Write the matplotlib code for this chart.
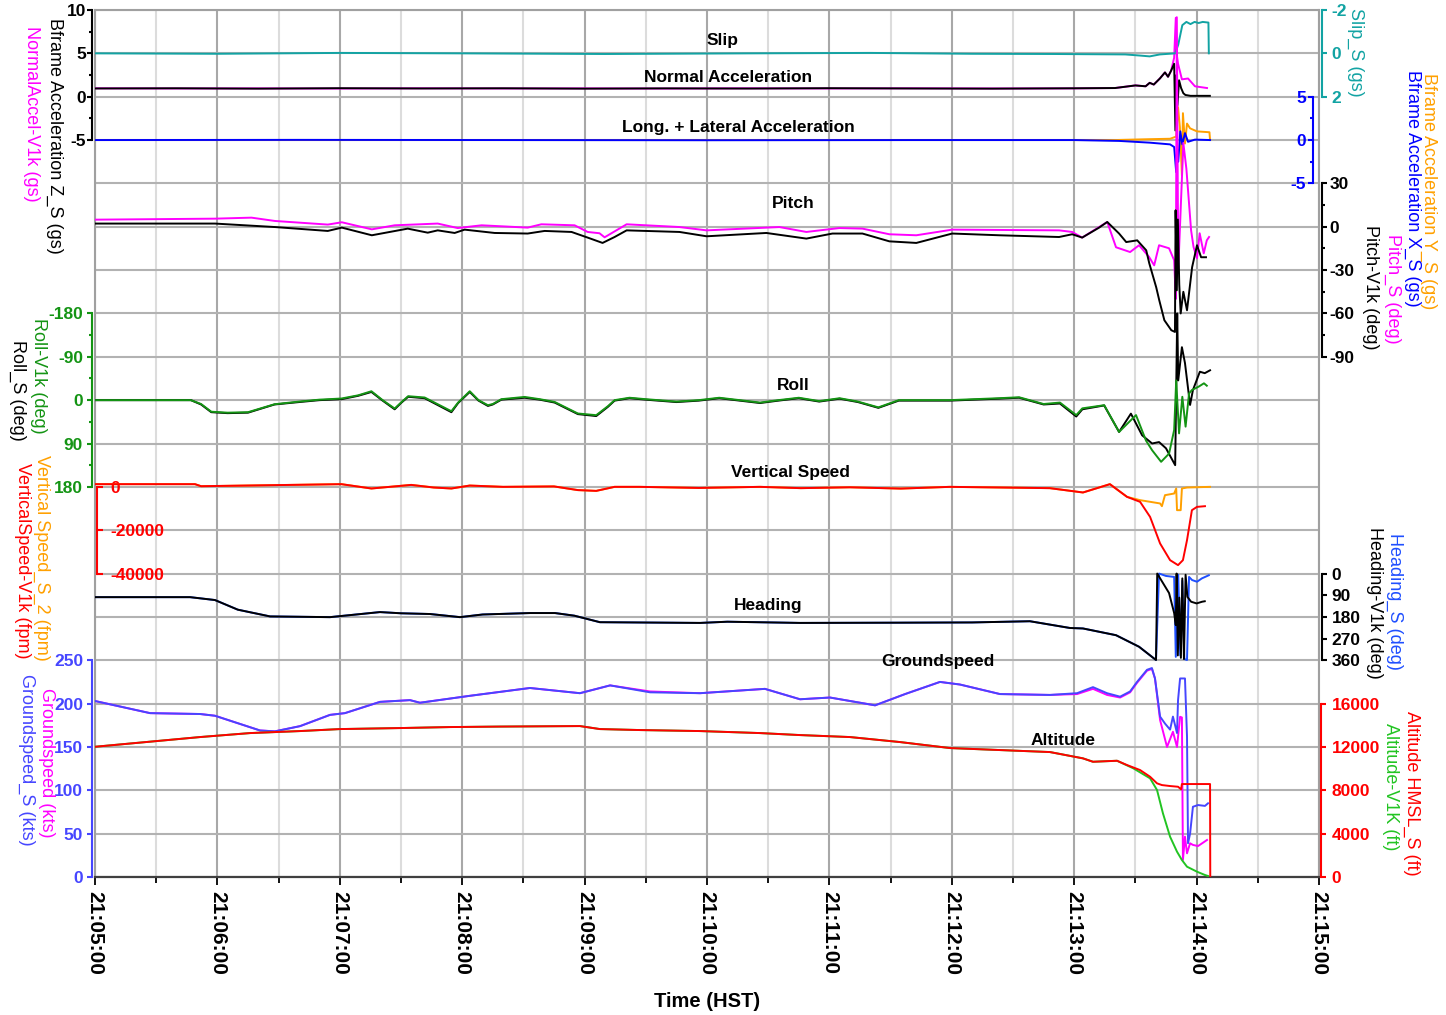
import matplotlib
matplotlib.use("Agg")
import matplotlib.pyplot as plt

plt.rcParams['font.family'] = ['Liberation Sans', 'DejaVu Sans']

# time axis: seconds after 21:05:00 HST
time_ticks = [0, 60, 120, 180, 240, 300, 360, 420, 480, 540, 600]
time_labels = ['21:05:00', '21:06:00', '21:07:00', '21:08:00', '21:09:00', '21:10:00',
               '21:11:00', '21:12:00', '21:13:00', '21:14:00', '21:15:00']
time_minor = [30, 90, 150, 210, 270, 330, 390, 450, 510, 570]

# --- Slip ---
slip_t = [0, 60, 120, 180, 250, 320, 380, 430, 470, 505, 512, 517, 522, 529.5, 531, 533, 535, 537, 539, 541, 543, 545.8, 546.0]
slip_s = [0.0, 0.02, -0.02, 0.0, 0.03, 0.0, -0.02, 0.02, 0.03, 0.05, 0.1, 0.14, 0.05, 0.0, -0.4, -1.3, -1.45, -1.35, -1.45, -1.4, -1.45, -1.42, 0.0]

# --- Normal acceleration ---
nz_t = [0, 40, 80, 120, 160, 200, 240, 280, 320, 360, 400, 440, 480, 500, 510, 515, 517, 519, 522, 524.5, 526, 527.5, 529, 529.6, 530.1, 530.6, 531.4, 532.4, 533.5, 534.5, 537, 546.5]
nz_s = [0.95, 0.97, 0.93, 0.98, 0.95, 0.97, 0.93, 0.96, 0.94, 0.98, 0.95, 0.93, 0.97, 1.0, 1.3, 1.2, 1.6, 1.4, 2.1, 2.8, 2.3, 3.0, 3.8, -3.9, 2.5, -1.0, 1.9, 1.0, 0.4, 0.2, 0.1, 0.1]
nz_v1k_t = [0, 40, 80, 120, 160, 200, 240, 280, 320, 360, 400, 440, 480, 500, 510, 515, 517, 519, 522, 524.5, 526, 527.5, 529, 529.8, 530.2, 530.9, 532.8, 535.8, 539.2, 545.1]
nz_v1k = [0.97, 0.95, 0.96, 0.94, 0.97, 0.95, 0.96, 0.94, 0.97, 0.95, 0.97, 0.95, 0.96, 1.0, 1.3, 1.2, 1.6, 1.4, 2.1, 2.8, 2.3, 3.0, 4.5, 9.1, 5.0, 3.8, 2.0, 2.1, 1.2, 1.0]

# --- Longitudinal / lateral acceleration ---
ax_t = [0, 100, 200, 300, 400, 480, 502, 517, 527, 529, 530, 530.4, 531, 532, 533, 534.3, 535.8, 539.2, 546.6]
ax_s = [0.0, 0.02, 0.0, -0.02, 0.0, 0.0, -0.1, -0.3, -0.5, -0.8, -3.7, -1.0, -2.5, 1.0, -0.5, 0.8, -0.2, 0.05, 0.0]
ay_t = [0, 100, 200, 300, 400, 500, 517, 527, 530, 530.9, 531.8, 532.8, 533.3, 534.3, 535.3, 536.8, 540.2, 546.3, 546.6]
ay_s = [0.0, 0.0, 0.0, 0.0, 0.0, 0.0, 0.1, 0.15, 0.4, 3.8, 1.5, -4.1, 3.1, -0.4, 1.9, 1.35, 1.0, 0.9, 0.0]

# --- Pitch ---
pitch_v1k_t = [0, 58.8, 88.2, 114.1, 121.0, 135.7, 153.3, 163.1, 168.0, 176.3, 181.2, 195.9, 212.1, 220.4,
               233.6, 241.5, 248.8, 254.7, 260.6, 286.5, 299.8, 329.1, 348.7, 361.5, 376.2, 389.4, 402.6,
               420.2, 443.3, 472.6, 479.0, 483.9, 492.2, 496.2, 502.0, 505.5, 510.9, 515.3, 516.8, 520.2,
               521.7, 524.2, 527.6, 529.4, 529.7, 530.3, 530.8, 531.5, 532.2, 533.5, 535.3, 537.8, 540.2,
               542.2, 544.6]
pitch_v1k = [2.2, 2.2, -0.2, -2.9, -0.6, -5.9, -1.3, -4.1, -2.5, -4.3, -2.0, -4.3, -4.7, -2.9,
             -3.6, -7.5, -11.2, -7.1, -2.5, -3.6, -6.6, -4.3, -8.2, -4.7, -4.7, -10.1, -11.2,
             -4.7, -5.9, -7.1, -5.2, -7.5, -0.6, 3.3, -4.7, -10.6, -9.4, -16.3, -25.3, -41.9,
             -50.9, -64.7, -71.6, -72.8, 11.4, -44.0, 5.0, -40.0, -60.0, -45.0, -57.8, -28.0, -12.8,
             -21.1, -21.1]
pitch_s_t = [0, 58.8, 76.7, 88.2, 114.1, 121.0, 135.7, 146.9, 168.0, 177.8, 189.5, 212.1, 218.8, 235.1,
             241.5, 247.3, 249.8, 260.6, 286.5, 299.8, 335.5, 348.7, 364.9, 376.2, 389.4, 402.6, 420.2,
             472.6, 479.0, 483.9, 492.2, 496.2, 500.5, 507.4, 511.8, 516.7, 519.2, 521.6, 526.5, 529.0,
             529.8, 530.3, 531.0, 533.5, 535.0, 537.3, 538.5, 540.2, 541.5, 543.5, 545.0, 546.1]
pitch_s = [4.9, 5.6, 6.3, 4.0, 1.5, 3.1, -1.8, 1.0, 2.2, -0.9, 1.0, -0.6, 1.7, 1.0,
           -3.6, -4.5, -7.3, 1.7, -0.2, -2.5, -0.2, -3.6, -0.9, -1.3, -5.2, -5.9, -2.0,
           -2.5, -3.6, -7.5, -0.2, 3.3, -14.2, -17.5, -12.8, -20.9, -26.7, -12.8, -14.9, -23.2,
           -50.0, 145.0, -30.0, 58.0, 40.0, -2.5, -14.0, -21.8, -4.5, -18.4, -9.4, -7.1]

# --- Roll ---
roll_v1k_t = [0, 47, 52, 57, 65, 75, 88, 100, 110, 120.8, 129, 135.5, 141, 146.9, 150, 153.5, 161.6, 174.7,
              178, 183.7, 188, 192.6, 195, 199.2, 210.6, 218, 225.3, 236.7, 245.7, 251.4, 254.7, 262, 270,
              285, 296, 306, 316, 326, 335, 345, 355, 365, 374, 384, 394, 419, 443, 453, 465, 473, 481,
              484, 494.7, 502, 510.3, 515.2, 518.2, 522.6, 526.5, 529, 530, 531.4, 533, 534.6, 536.3,
              537.7, 541, 543.6, 545]
roll_v1k = [0, 0, 8, 24, 26, 25, 8.5, 3, -1, -3.4, -10, -18.5, 0, 17.4, 5, -8.2, -5.5, 23,
            5, -18.5, 0, 10.5, 8, -2, -6.7, -2, 3.7, 27.7, 31.2, 12.6, 0, -5, -2,
            3, 0, -5, 0, 5, 0, -5, 2, -4, 3, 15, 0, 0, -4, -6, 8, 5, 31,
            17, 10.5, 66, 31, 84, 104, 128, 111, 62, -41, 69, -7, 55, -14,
            -21, -28, -35, -30]
roll_s_t = [0, 47, 52, 57, 65, 75, 88, 100, 110, 120.8, 129, 135.5, 141, 146.9, 150, 153.5, 161.6, 174.7,
            178, 183.7, 188, 192.6, 195, 199.2, 210.6, 218, 225.3, 236.7, 245.7, 251.4, 254.7, 262, 270,
            285, 296, 306, 316, 326, 335, 345, 355, 365, 374, 384, 394, 419, 443, 453, 465, 473, 481,
            484, 494.7, 502, 507.8, 513.3, 518.2, 521.6, 525, 529.5, 530.5, 531, 532.8, 534.3, 536.8,
            538.2, 541.6, 544, 546.6]
roll_s = [0, 0, 9, 25, 27, 26, 9, 4, 0, -2, -9, -17, 1, 19, 6, -7, -4, 25,
          6, -17, 1, 12, 9, -1, -5, -1, 5, 29, 33, 14, 1, -4, -1,
          4, 1, -4, 1, 6, 1, -4, 3, -3, 4, 16, 1, 1, -3, -5, 9, 7, 34,
          19, 11, 66, 28, 73, 90, 87, 100, 135, -180, -41, -110, -77, 10,
          -21, -59, -56, -62]

# --- Vertical speed ---
vs_v1k_t = [0, 49, 52, 120.8, 135.5, 155, 166, 174.7, 183.7, 200, 225, 236.7, 245.7, 254.7, 267, 296,
            326, 346, 370, 395, 419, 444, 468, 484.3, 497.5, 505.9, 512.3, 517.2, 522.1, 527, 530.9,
            533.3, 535.3, 537.7, 540.2, 544.1]
vs_v1k = [1240, 1240, 300, 1240, -760, 900, -300, -760, 600, 0, 200, -1500, -1860, 0, 0, -500,
          0, -600, -200, -800, 0, -300, -600, -2600, 1240, -4620, -6920, -13860, -26120, -33820, -36120,
          -33820, -24600, -10760, -9240, -8920]
vs_s_t = [0, 49, 52, 120.8, 135.5, 155, 166, 174.7, 183.7, 200, 225, 236.7, 245.7, 254.7, 267, 296,
          326, 346, 370, 395, 419, 444, 468, 484.3, 497.5, 505.9, 512.3, 522.1, 523, 524.5, 529,
          530, 530.4, 532.2, 532.8, 535.3, 546.6]
vs_s = [1240, 1240, 300, 1240, -760, 900, -300, -760, 600, 0, 200, -1500, -1860, 0, 0, -500,
        0, -600, -200, -800, 0, -300, -600, -2600, 1240, -4620, -6140, -7660, -8920, -3840, -3080,
        -760, -10760, -10760, -760, -300, 0]

# --- Heading ---
hdg_v1k_t = [0, 46.6, 58.8, 70, 85.8, 115.2, 139.7, 150, 164.2, 178.9, 190, 213.2, 225.5, 235, 247.5,
             296.6, 310, 345.6, 394.6, 430, 458.3, 477.9, 484.3, 500.5, 511.8, 520.1, 520.7, 526.5,
             529, 529.8, 530.2, 530.8, 531.5, 532.3, 533, 533.8, 534.6, 535.5, 537.3, 540, 542.7, 544]
hdg_v1k = [98, 98, 110, 150, 178, 181, 160, 165, 168, 181, 170, 164, 164, 175, 202,
           205, 200, 205, 204, 203, 198, 226, 228, 256, 304, 359, 0, 81,
           164, 214, 0, 340, 100, 350, 20, 355, 5, 97, 117, 124, 117, 115]
hdg_s_t = [0, 46.6, 58.8, 70, 85.8, 115.2, 139.7, 150, 164.2, 178.9, 190, 213.2, 225.5, 235, 247.5,
           296.6, 310, 345.6, 394.6, 430, 458.3, 477.9, 484.3, 500.5, 511.8, 520.1, 521.6, 525,
           529, 529.8, 531, 532, 533, 534, 535.3, 536.3, 537.8, 540.2, 542.6, 546]
hdg_s = [98, 98, 110, 150, 178, 181, 160, 165, 168, 181, 170, 164, 164, 175, 202,
         205, 200, 205, 204, 203, 198, 226, 228, 256, 304, 359, 0, 10,
         14, 346, 5, 340, 30, 355, 359, 14, 27, 34, 20, 7]

# --- Groundspeed ---
gs_s_t = [0, 27, 51.5, 58.8, 80.9, 88.2, 100.5, 115.2, 122.5, 139.7, 154.4, 159.3, 183.8, 213.2, 237.7,
          252.5, 272.1, 296.6, 328.4, 345.6, 360.3, 382.4, 397.1, 414.2, 424, 443.6, 468.1, 481.4,
          489.2, 496.1, 502.5, 507.4, 510.8, 515.7, 518.1, 519.6, 522.1, 524.5, 527, 528.4, 530.4,
          530.9, 531.9, 534.3, 535.3, 535.8, 536.8, 538.2, 540.7, 544.1, 545.6]
gs_s = [203, 189, 188, 186, 169, 168, 174, 187, 189, 202, 204, 201, 209, 218, 212,
        221, 213, 212, 217, 205, 207, 198, 211, 225, 222, 211, 210, 212,
        219, 212, 208, 214, 225, 239, 241, 229, 185, 177, 170, 185, 166,
        204, 229, 229, 162, 39, 50, 81, 83, 82, 85]
gs_v1k_t = [0, 27, 51.5, 58.8, 80.9, 88.2, 100.5, 115.2, 122.5, 139.7, 154.4, 159.3, 183.8, 213.2, 237.7,
            252.5, 272.1, 296.6, 328.4, 345.6, 360.3, 382.4, 397.1, 414.2, 424, 443.6, 468.1, 481.4,
            489.2, 496.1, 502.5, 507.4, 510.8, 515.7, 518.1, 519.6, 522.1, 525.5, 528.4, 530.4,
            531.9, 532.8, 533.3, 534.3, 535.3, 536.8, 538.2, 540.7, 543.1, 545.1]
gs_v1k = [203, 189, 188, 186, 169, 168, 174, 187, 189, 202, 204, 201, 209, 218, 212,
          221, 214, 212, 217, 205, 207, 198, 211, 225, 222, 211, 210, 211,
          217, 210, 207, 213, 224, 238, 240, 229, 181, 150, 167.5, 150,
          184.8, 184, 19.6, 46.5, 27.3, 38.9, 37, 35.7, 39.5, 42.7]

# --- Altitude ---
alt_s_t = [0, 51.5, 76, 100.5, 120.1, 149.5, 174, 198.5, 237.7, 247.5, 267.2, 296.6, 326, 345.6, 370.1,
           394.6, 419.1, 443.6, 468.1, 484.3, 489.2, 501, 505.9, 512.3, 517.2, 520.6, 523, 527, 530.9,
           532.4, 532.8, 546.6, 546.7]
alt_s = [12017, 12913, 13280, 13466, 13650, 13743, 13835, 13880, 13927, 13650, 13559, 13466, 13280, 13096, 12913,
         12451, 11898, 11713, 11529, 10947, 10634, 10726, 10330, 9868, 9250, 8641, 8483, 8393, 8328,
         8089, 8577, 8577, 0]
alt_v1k_t = [0, 51.5, 76, 100.5, 120.1, 149.5, 174, 198.5, 237.7, 247.5, 267.2, 296.6, 326, 345.6, 370.1,
             394.6, 419.1, 443.6, 468.1, 484.3, 489.2, 501, 509, 517.2, 520.6, 523.5, 527, 530.4, 532.8,
             535.3, 540.2, 544.1, 545.6]
alt_v1k = [12017, 12913, 13280, 13466, 13650, 13743, 13835, 13880, 13927, 13650, 13559, 13466, 13280, 13096, 12913,
           12451, 11898, 11713, 11529, 10947, 10634, 10726, 10025, 9103, 8025, 5875, 3717, 2334, 1568,
           950, 489, 184, 92]

MAGENTA = '#ff00ff'
TEAL = '#12a3a3'
BLUE = '#0000ff'
HDG_BLUE = '#1f4fff'
GS_BLUE = '#4646ff'
ORANGE = '#ffa000'
ROLL_GREEN = '#149414'
ALT_GREEN = '#22c422'
RED = '#ff0000'
BLACK = '#000000'
LW = 1.4

W, H = 1446, 1015
fig = plt.figure(figsize=(W / 100, H / 100), dpi=100)
rect = [95 / W, (H - 877) / H, 1224 / W, 867 / H]

base = fig.add_axes(rect)
base.set_xlim(0, 600)
base.set_ylim(0, 20)
base.set_yticks(range(21))
base.set_xticks(time_ticks)
base.set_xticks(time_minor, minor=True)
base.set_xticklabels(time_labels, rotation=-90, fontsize=15, fontweight='bold')
base.tick_params(axis='y', left=False, labelleft=False)
base.tick_params(axis='x', which='major', length=6, width=1.3, pad=4)
base.tick_params(axis='x', which='minor', length=4.5, width=1.3)
base.grid(axis='y', color='#b2b2b2', lw=1.5)
base.grid(axis='x', which='major', color='#a8a8a8', lw=1.5)
base.grid(axis='x', which='minor', color='#dcdcdc', lw=1.5)
for side in ['left', 'right', 'top']:
    base.spines[side].set_color('#a0a0a0')
    base.spines[side].set_linewidth(1.5)
base.spines['bottom'].set_color('#404040')
base.spines['bottom'].set_linewidth(1.6)
base.set_xlabel('Time (HST)', fontsize=14.5, fontweight='bold', labelpad=12)


def band_axis(ylim, side, color, ticks, minor=None, pos=('outward', 2.5), pad=1.5, length=3.6):
    ax = fig.add_axes(rect)
    ax.set_xlim(0, 600)
    ax.set_ylim(*ylim)
    ax.patch.set_visible(False)
    for s in ax.spines.values():
        s.set_visible(False)
    ax.set_xticks([])
    sp = ax.spines[side]
    sp.set_visible(True)
    sp.set_color(color)
    sp.set_linewidth(1.5)
    sp.set_position(pos)
    sp.set_bounds(min(ticks), max(ticks))
    ax.yaxis.set_ticks_position(side)
    ax.set_yticks(ticks)
    ax.set_yticklabels([str(v) for v in ticks], fontweight='bold')
    if minor:
        ax.set_yticks(minor, minor=True)
    ax.tick_params(axis='y', which='major', colors=color, length=length, width=1.5,
                   labelsize=12.5, pad=pad)
    ax.tick_params(axis='y', which='minor', colors=color, length=2.2, width=1.5)
    return ax


# left-hand scales
a_nz = band_axis((-90, 10), 'left', BLACK, [-5, 0, 5, 10], minor=[-2.5, 2.5, 7.5], pad=0.5)
a_nz.plot(nz_v1k_t, nz_v1k, color=MAGENTA, lw=LW)
a_nz.plot(nz_t, nz_s, color=BLACK, lw=LW)

a_roll = band_axis((990, -810), 'left', ROLL_GREEN, [-180, -90, 0, 90, 180],
                   minor=[-135, -45, 45, 135], pad=2.5)
a_roll.plot(roll_s_t, roll_s, color=BLACK, lw=LW)
a_roll.plot(roll_v1k_t, roll_v1k, color=ROLL_GREEN, lw=LW)

a_vs = band_axis((-180000, 220000), 'right', RED, [-40000, -20000, 0],
                 pos=('axes', 2 / 1224), pad=5, length=4.5)
a_vs.plot(vs_s_t, vs_s, color=ORANGE, lw=LW)
a_vs.plot(vs_v1k_t, vs_v1k, color=RED, lw=LW)

a_gs = band_axis((0, 1000), 'left', GS_BLUE, [0, 50, 100, 150, 200, 250], pad=2.5)
a_gs.plot(gs_v1k_t, gs_v1k, color=MAGENTA, lw=LW)
a_gs.plot(gs_s_t, gs_s, color=GS_BLUE, lw=LW)

# right-hand scales
a_slip = band_axis((38, -2), 'right', TEAL, [-2, 0, 2], pad=3)
a_slip.plot(slip_t, slip_s, color=TEAL, lw=LW)

a_xy = band_axis((-85, 15), 'left', BLUE, [-5, 0, 5], minor=[-2.5, 2.5],
                 pos=('axes', 1218 / 1224), pad=1.5)
a_xy.plot(ay_t, ay_s, color=ORANGE, lw=LW)
a_xy.plot(ax_t, ax_s, color=BLUE, lw=LW)

a_pitch = band_axis((-450, 150), 'right', BLACK, [-90, -60, -30, 0, 30],
                    minor=[-75, -45, -15, 15], pad=1.5)
a_pitch.plot(pitch_s_t, pitch_s, color=MAGENTA, lw=LW)
a_pitch.plot(pitch_v1k_t, pitch_v1k, color=BLACK, lw=LW)

a_hdg = band_axis((1260, -2340), 'right', BLACK, [0, 90, 180, 270, 360], pad=3)
a_hdg.plot(hdg_s_t, hdg_s, color=HDG_BLUE, lw=LW)
a_hdg.plot(hdg_v1k_t, hdg_v1k, color=BLACK, lw=LW)

a_alt = band_axis((0, 80000), 'right', RED, [0, 4000, 8000, 12000, 16000], pos=('outward', 1.5), pad=4)
a_alt.plot(alt_v1k_t, alt_v1k, color=ALT_GREEN, lw=LW)
a_alt.plot(alt_s_t, alt_s, color=RED, lw=LW)

# trace titles inside the plot
titles = [('Slip', 307.4, 19.30), ('Normal Acceleration', 310.3, 18.45),
          ('Long. + Lateral Acceleration', 315.2, 17.29), ('Pitch', 342.2, 15.54),
          ('Roll', 342.2, 11.34), ('Vertical Speed', 340.7, 9.32), ('Heading', 329.9, 6.27),
          ('Groundspeed', 413.2, 4.96), ('Altitude', 474.5, 3.14)]
for s, tx, ty in titles:
    base.text(tx, ty, s, ha='center', va='center', fontsize=12.5, fontweight='bold', zorder=5)

# axis names, rotated
names = [('Bframe Acceleration Z_S (gs)', BLACK, 55, 136), ('NormalAccel-V1k (gs)', MAGENTA, 31, 114),
         ('Roll-V1k (deg)', ROLL_GREEN, 38, 376), ('Roll_S (deg)', BLACK, 17.5, 390),
         ('Vertical Speed_S_2 (fpm)', ORANGE, 42, 558), ('VerticalSpeed-V1k (fpm)', RED, 22, 561),
         ('Groundspeed (kts)', MAGENTA, 46, 763), ('Groundspeed_S (kts)', GS_BLUE, 27, 760),
         ('Slip_S (gs)', TEAL, 1356, 52), ('Bframe Acceleration Y_S (gs)', ORANGE, 1429, 191),
         ('Bframe Acceleration X_S (gs)', BLUE, 1413, 188), ('Pitch_S (deg)', MAGENTA, 1393, 289),
         ('Pitch-V1k (deg)', BLACK, 1371, 287), ('Heading_S (deg)', HDG_BLUE, 1395, 601),
         ('Heading-V1k (deg)', BLACK, 1374, 603), ('Altitude HMSL_S (ft)', RED, 1412, 793),
         ('Altitude-V1K (ft)', ALT_GREEN, 1390, 787)]
for s, c, px, py in names:
    fig.text(px / W, 1 - py / H, s, color=c, rotation=-90, ha='center', va='center', fontsize=13)

fig.savefig('out.png', dpi=100)
